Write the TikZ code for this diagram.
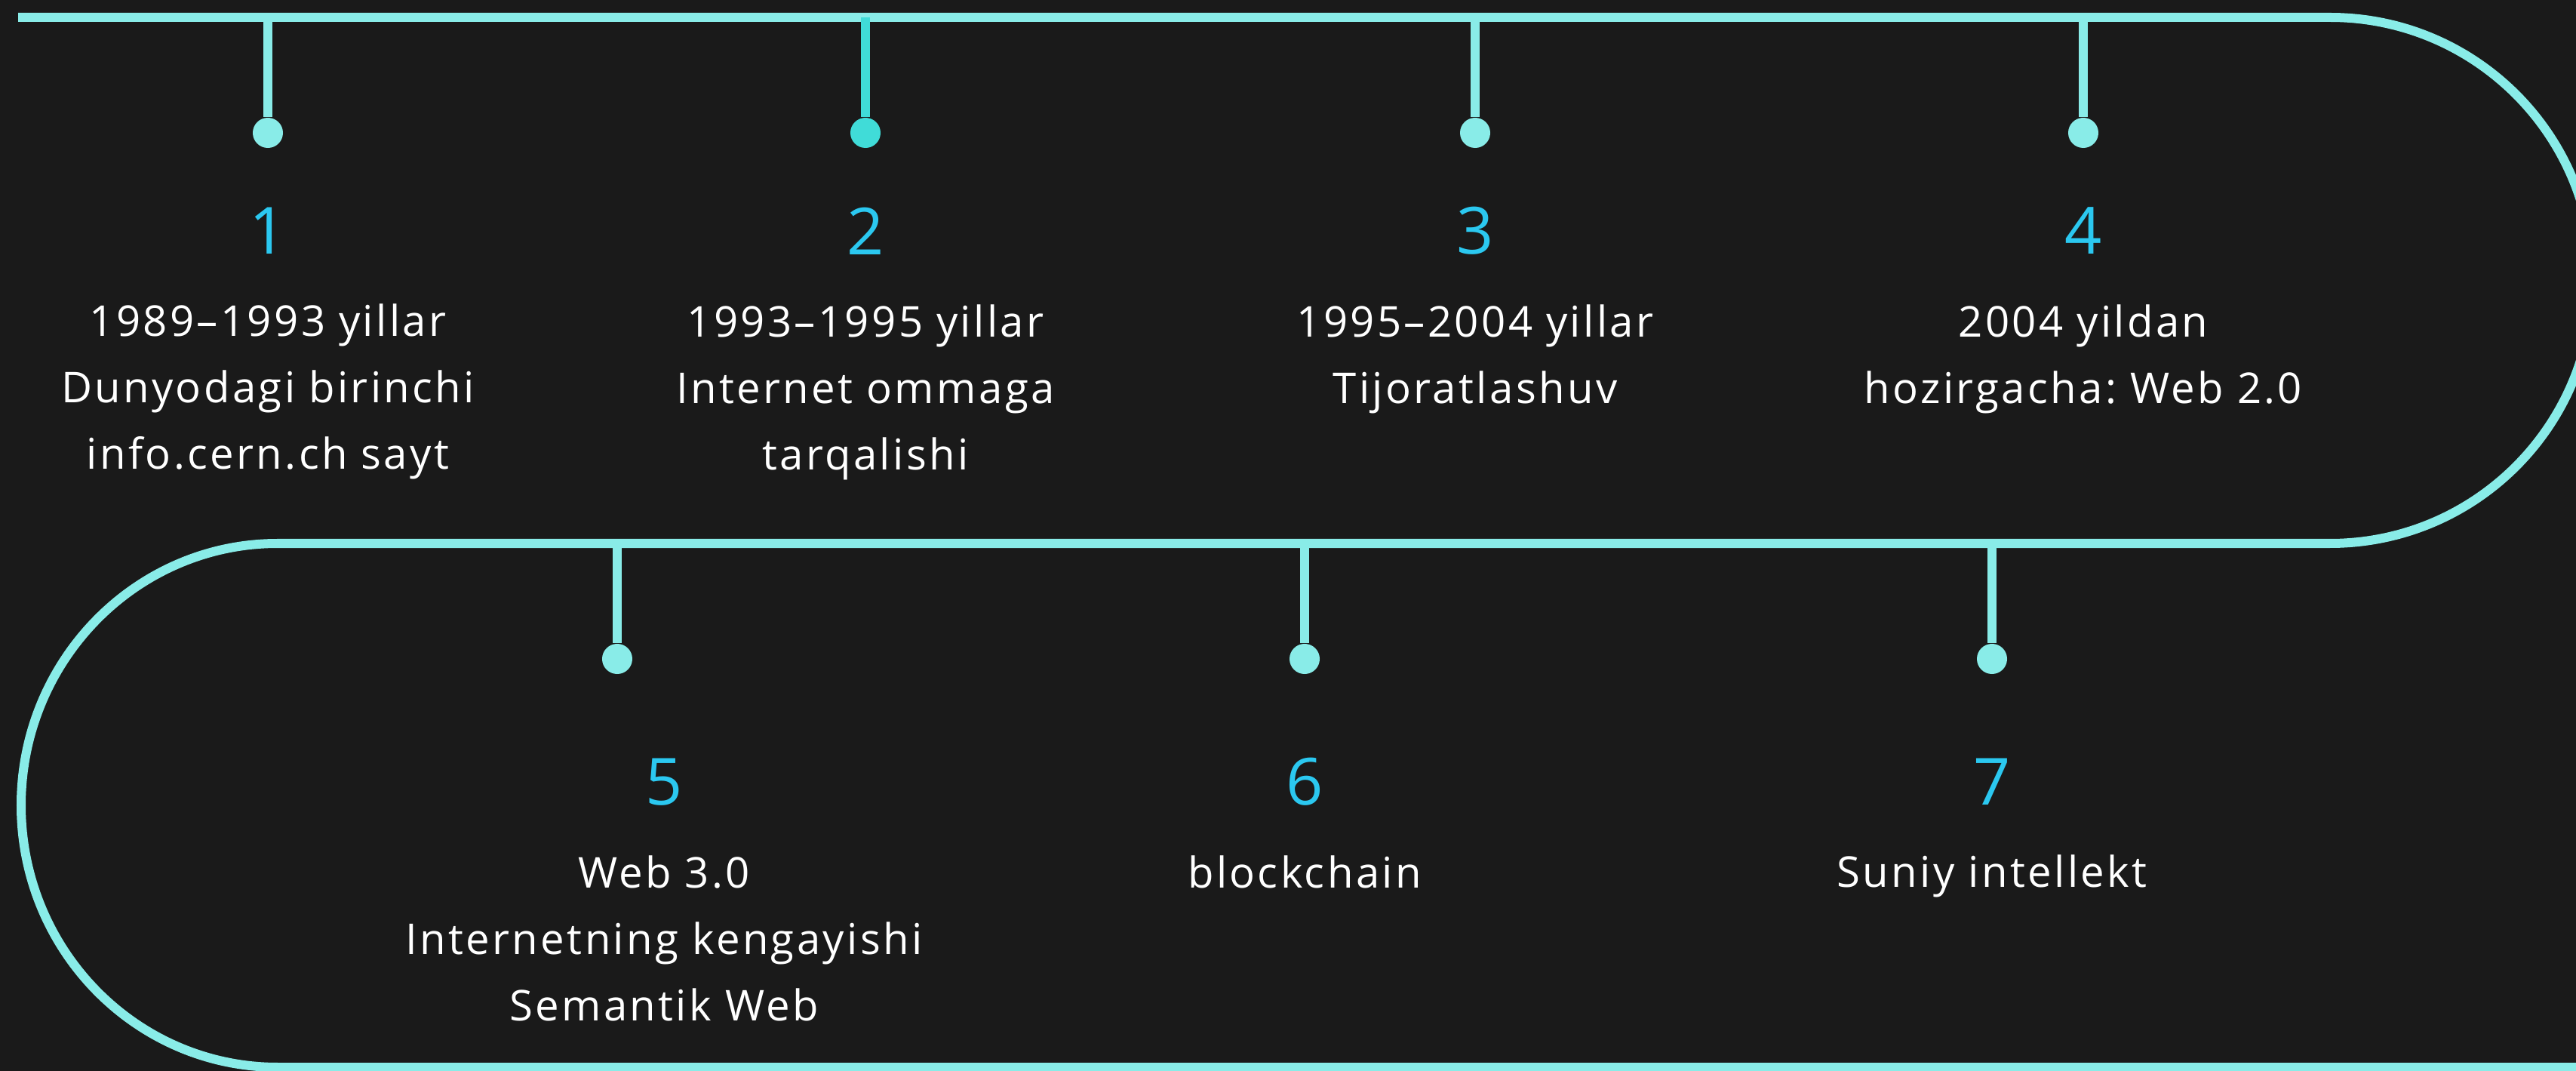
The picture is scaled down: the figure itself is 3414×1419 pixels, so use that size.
\documentclass[tikz,border=0pt]{standalone}
\usepackage{fontspec}
\setmainfont[LetterSpace=6]{Open Sans}
\usepackage{tikz}
\usetikzlibrary{positioning}
\definecolor{bg}{HTML}{1A1A1A}
\definecolor{track}{HTML}{89ECE8}
\definecolor{tracktwo}{HTML}{40DCD8}
\definecolor{numblue}{HTML}{2BC8F0}
\frenchspacing

\begin{document}
\begin{tikzpicture}[x=0.01cm,y=0.01cm,node distance=0.65cm,
  every node/.style={inner sep=0pt},
  dot/.style={circle,fill=track,minimum size=0.4cm},
  stem/.style={draw=track,line width=0.12cm},
  num/.style={text=numblue,font=\fontsize{24.5}{26}\selectfont},
  info/.style={text=white,font=\fontsize{16}{25}\selectfont,align=center,anchor=north}]
  \useasboundingbox (0,0) rectangle (3414,-1419);
  \fill[bg] (0,0) rectangle (3414,-1419);

  % the winding line
  \draw[track,line width=0.12cm] (24,-23) -- (3088,-23)
    arc[start angle=90,end angle=-90,radius=348.5] -- (368,-720)
    arc[start angle=90,end angle=270,x radius=340,y radius=347] -- (3440,-1414);

  % top row
  \coordinate (s1) at (355,-23);
  \coordinate (s2) at (1147,-23);
  \coordinate (s3) at (1955,-23);
  \coordinate (s4) at (2761,-23);
  \node[dot] (d1) at (355,-176){};
  \node[dot,fill=tracktwo] (d2) at (1147,-176){};
  \node[dot] (d3) at (1955,-176){};
  \node[dot] (d4) at (2761,-176){};
  \draw[stem](s1)--(d1);
  \draw[stem,draw=tracktwo](s2)--(d2);
  \draw[stem](s3)--(d3);
  \draw[stem](s4)--(d4);

  \node[num] (n1) at (355,-306){1};
  \node[num] (n2) at (1147,-306){2};
  \node[num] (n3) at (1955,-306){3};
  \node[num] (n4) at (2761,-306){4};
  \node[info,below=of n1] (t1){1989–1993 yillar\\Dunyodagi birinchi\\info.cern.ch sayt};
  \node[info,below=of n2] (t2){1993–1995 yillar\\Internet ommaga\\tarqalishi};
  \node[info,below=of n3] (t3){1995–2004 yillar\\Tijoratlashuv};
  \node[info,below=of n4] (t4){2004 yildan\\hozirgacha: Web 2.0};

  % bottom row
  \coordinate (s5) at (818,-720);
  \coordinate (s6) at (1729,-720);
  \coordinate (s7) at (2640,-720);
  \node[dot] (d5) at (818,-873){};
  \node[dot] (d6) at (1729,-873){};
  \node[dot] (d7) at (2640,-873){};
  \draw[stem](s5)--(d5);
  \draw[stem](s6)--(d6);
  \draw[stem](s7)--(d7);

  \node[num] (n5) at (880,-1036){5};
  \node[num] (n6) at (1729,-1036){6};
  \node[num] (n7) at (2640,-1036){7};
  \node[info,below=of n5] (t5){Web 3.0\\Internetning kengayishi\\Semantik Web};
  \node[info,below=of n6] (t6){blockchain};
  \node[info,below=of n7] (t7){Suniy intellekt};
\end{tikzpicture}
\end{document}
